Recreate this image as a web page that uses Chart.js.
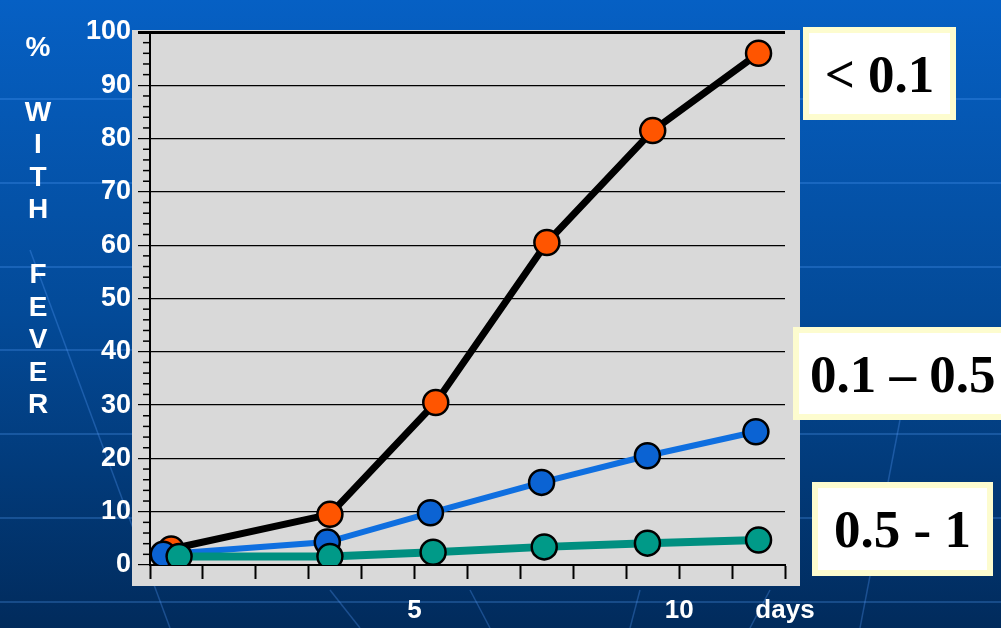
<!DOCTYPE html>
<html>
<head>
<meta charset="utf-8">
<script src="https://cdn.jsdelivr.net/npm/chart.js@4.4.1/dist/chart.umd.min.js"></script>
<style>
  html, body { margin: 0; padding: 0; width: 1001px; height: 628px; overflow: hidden; background: #023a7a; }
  #wrap { position: relative; width: 1001px; height: 628px; }
  canvas { position: absolute; left: 0; top: 0; }
  .tag {
    position: absolute; box-sizing: border-box; background: #fff;
    border: 6px solid #fdfccf; font: bold 53px "Liberation Serif", "Times New Roman", serif;
    color: #000; white-space: nowrap; display: flex; align-items: center; justify-content: center;
  }
</style>
</head>
<body>
<div id="wrap">
  <canvas id="chart" width="1001" height="628"></canvas>
  <div class="tag" style="left:803px;top:27px;width:153px;height:93px;">&lt; 0.1</div>
  <div class="tag" style="left:793px;top:327px;width:240px;height:93px;justify-content:flex-start;padding-left:11px;">0.1 – 0.5</div>
  <div class="tag" style="left:812px;top:482px;width:181px;height:94px;">0.5 - 1</div>
</div>
<script>
// series: < 0.1 (black line, orange dots)
const xLow = [0.4, 3.4, 5.4, 7.5, 9.5, 11.5];
const pctLow = [3, 9.5, 30.5, 60.5, 81.5, 96];
// series: 0.1 - 0.5 (blue)
const xMid = [0.25, 3.35, 5.3, 7.4, 9.4, 11.45];
const pctMid = [2, 4.3, 9.8, 15.5, 20.5, 25];
// series: 0.5 - 1 (teal)
const xHigh = [0.55, 3.4, 5.35, 7.45, 9.4, 11.5];
const pctHigh = [1.6, 1.6, 2.4, 3.4, 4.1, 4.7];

const yTitle = ['%', '', 'W', 'I', 'T', 'H', '', 'F', 'E', 'V', 'E', 'R'];
const xLabels = {5: '5', 10: '10', 12: 'days'};

const pts = (xs, ys) => xs.map((x, i) => ({x: x, y: ys[i]}));

const sansBold = '"Liberation Sans", Arial, sans-serif';

const backdrop = {
  id: 'backdrop',
  beforeDraw: (chart) => {
    const {ctx, chartArea: a} = chart;
    ctx.save();
    const g = ctx.createLinearGradient(0, 0, 0, chart.height);
    g.addColorStop(0, '#0660c4');
    g.addColorStop(0.5, '#034a98');
    g.addColorStop(1, '#012b5c');
    ctx.fillStyle = g;
    ctx.fillRect(0, 0, chart.width, chart.height);
    // faint template lines
    ctx.strokeStyle = 'rgba(90,160,255,0.35)';
    ctx.lineWidth = 1.5;
    [99, 183, 267, 350, 434, 518, 602].forEach(y => {
      ctx.beginPath(); ctx.moveTo(0, y); ctx.lineTo(chart.width, y); ctx.stroke();
    });
    ctx.strokeStyle = 'rgba(90,160,255,0.3)';
    [[30, 250, 170, 628], [330, 590, 360, 628], [470, 590, 490, 628], [640, 590, 630, 628], [770, 590, 750, 628], [900, 420, 860, 628]].forEach(l => {
      ctx.beginPath(); ctx.moveTo(l[0], l[1]); ctx.lineTo(l[2], l[3]); ctx.stroke();
    });
    // grey plot panel
    ctx.fillStyle = '#d9d9d9';
    ctx.fillRect(a.left - 18, a.top - 2, a.right - a.left + 33, a.bottom - a.top + 23);
    ctx.restore();
  },
  afterDraw: (chart) => {
    const {ctx} = chart;
    const y = chart.scales.y;
    ctx.save();
    // minor ticks every 2 %
    ctx.strokeStyle = '#000';
    ctx.lineWidth = 1.5;
    for (let v = 2; v < 100; v += 2) {
      if (v % 10 === 0) continue;
      const py = y.getPixelForValue(v);
      ctx.beginPath(); ctx.moveTo(y.right - 7, py); ctx.lineTo(y.right, py); ctx.stroke();
    }
    // stacked axis title
    ctx.fillStyle = '#fff';
    ctx.font = 'bold 28px ' + sansBold;
    ctx.textAlign = 'center';
    ctx.textBaseline = 'middle';
    yTitle.forEach((ch, i) => ctx.fillText(ch, 38, 48 + i * 32.5));
    ctx.restore();
  }
};

new Chart(document.getElementById('chart'), {
  type: 'scatter',
  data: {
    datasets: [
      {
        label: '0.5 - 1', data: pts(xHigh, pctHigh), showLine: true, order: 0,
        borderColor: '#008f80', borderWidth: 8,
        pointBackgroundColor: '#009a88', pointBorderColor: '#000', pointBorderWidth: 2.5,
        pointRadius: 12.5
      },
      {
        label: '0.1 – 0.5', data: pts(xMid, pctMid), showLine: true, order: 1,
        borderColor: '#0f6fe0', borderWidth: 6,
        pointBackgroundColor: '#0b63d3', pointBorderColor: '#000', pointBorderWidth: 2.5,
        pointRadius: 12.5
      },
      {
        label: '< 0.1', data: pts(xLow, pctLow), showLine: true, order: 2,
        borderColor: '#000', borderWidth: 7,
        pointBackgroundColor: '#ff5500', pointBorderColor: '#000', pointBorderWidth: 2.5,
        pointRadius: 12.5
      }
    ]
  },
  options: {
    responsive: false,
    animation: false,
    layout: {padding: {top: 32, right: 216, left: 0, bottom: 0}},
    plugins: {legend: {display: false}, tooltip: {enabled: false}},
    scales: {
      x: {
        type: 'linear', min: 0, max: 12,
        afterFit: (s) => { s.height = 63; },
        border: {color: '#000', width: 2},
        grid: {drawOnChartArea: false, drawTicks: true, tickLength: 14, tickColor: '#000', tickWidth: 2},
        ticks: {
          stepSize: 1, autoSkip: false, maxRotation: 0, padding: 16,
          color: '#fff', font: {family: sansBold, size: 26, weight: 'bold'},
          callback: (v) => xLabels[v] || ''
        }
      },
      y: {
        min: 0, max: 100,
        afterFit: (s) => { s.width = 150; },
        border: {color: '#000', width: 2},
        grid: {
          color: '#000', tickColor: '#000', tickLength: 12,
          lineWidth: (c) => (c.tick && c.tick.value === 100 ? 3 : 1.2)
        },
        ticks: {
          stepSize: 10, padding: 7,
          color: '#fff', font: {family: sansBold, size: 27, weight: 'bold'}
        }
      }
    }
  },
  plugins: [backdrop]
});
</script>
</body>
</html>
